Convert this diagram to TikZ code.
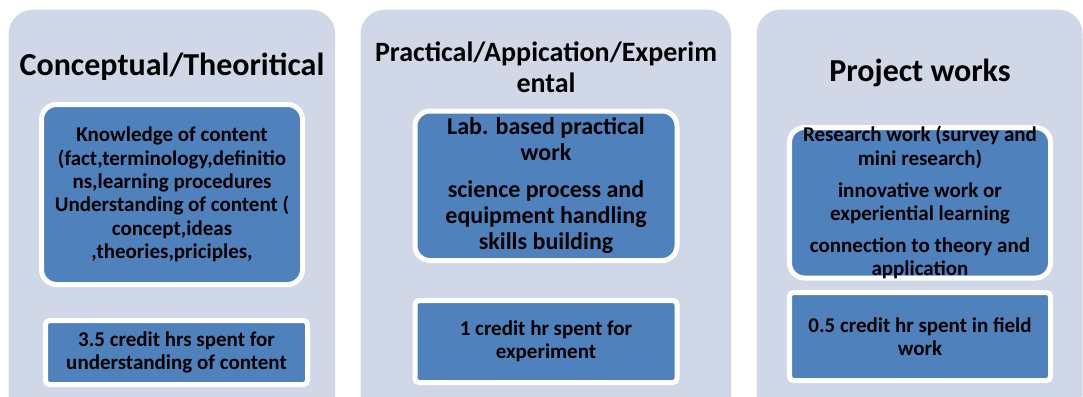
\documentclass[tikz,border=0pt]{standalone}
\usepackage{fontspec}
\setmainfont{Carlito}
\usetikzlibrary{positioning}
\definecolor{panelc}{RGB}{208,216,232}
\definecolor{cardc}{RGB}{79,129,189}
\tikzset{panel/.style={fill=panelc,rounded corners=24pt,minimum height=410pt,inner sep=0pt},head/.style={font=\bfseries\fontsize{32}{34}\selectfont,align=center,inner sep=0pt},card/.style={draw=white,line width=5pt,fill=cardc,rounded corners=15pt,font=\bfseries\fontsize{21}{23.4}\selectfont,align=center,minimum width=261pt,inner sep=2pt},note/.style={card,rounded corners=4pt}}

\begin{document}
\begin{tikzpicture}[x=1pt,y=-1pt,node distance=25pt]
\useasboundingbox (0,0) rectangle (1083,396);
\clip (0,0) rectangle (1083,396);
% three columns, cut off at the bottom
\node[panel,minimum width=326.5pt,anchor=north west] (concept) at (8.5,9.5) {};
\node[panel,minimum width=370.5pt,right=of concept] (practice) {};
\node[panel,minimum width=326pt,right=of practice] (project) {};
% headings
\node[head] (concept-head) at (172,67) {Conceptual/Theoritical};
\node[head,font=\bfseries\fontsize{28}{31}\selectfont] (practice-head) at (546,67.5) {Practical/Appication/Experim\\ental};
\node[head] (project-head) at (920,73) {Project works};
% contents
\node[card,minimum height=180pt] (concept-body) at (172,194.5) {Knowledge of content\\(fact,terminology,definitio\\ns,learning procedures\\Understanding of content (\\concept,ideas\\,theories,priciples,};
\node[card,minimum width=262pt,minimum height=149.5pt,font=\bfseries\fontsize{24}{26}\selectfont] (practice-body) at (546,185.75) {Lab. based practical\\work\\[11pt]science process and\\equipment handling\\skills building};
\node[card,minimum height=150.5pt,inner ysep=-6pt] (project-body) at (920,202.75) {Research work (survey and\\mini research)\\[8.5pt]innovative work or\\experiential learning\\[8.5pt]connection to theory and\\application};
% credit hours
\node[note,minimum width=262pt,minimum height=64pt] (concept-credit) at (176.5,352.5) {3.5 credit hrs spent for\\understanding of content};
\node[note,minimum width=262pt,minimum height=82pt] (practice-credit) at (546,341.5) {1 credit hr spent for\\experiment};
\node[note,minimum height=88pt] (project-credit) at (920,336.5) {0.5 credit hr spent in field\\work};
\end{tikzpicture}
\end{document}
